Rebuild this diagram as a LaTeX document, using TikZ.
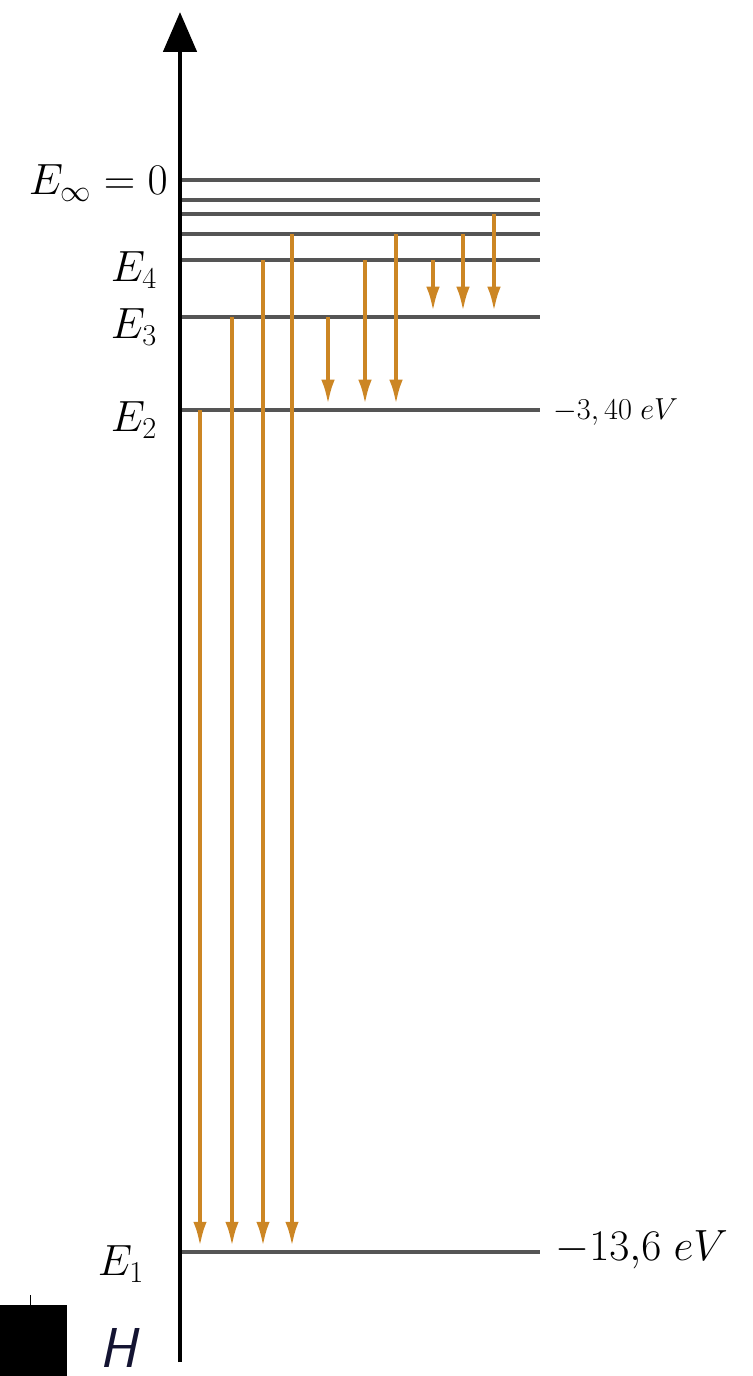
\documentclass[tikz,border=0pt]{standalone}
\usepackage{amsmath,amssymb}
\usetikzlibrary{arrows.meta}
\definecolor{photon}{RGB}{204,134,36}
\definecolor{levelgray}{RGB}{85,85,85}
\definecolor{hblue}{RGB}{20,20,50}

\begin{document}
\begin{tikzpicture}[x=0.02cm,y=-0.02cm,
  level/.style={levelgray, line width=2.1pt},
  trans/.style={photon, line width=2.3pt, shorten >=3pt, -{Latex[length=0.5cm,width=0.27cm]}},
  big/.style={font=\fontsize{25}{30}\selectfont, inner sep=0pt},
  small/.style={font=\fontsize{18}{22}\selectfont, inner sep=0pt}]
\useasboundingbox (0,0) rectangle (753,1376);
% levels
\coordinate (Einf) at (180,180);
\coordinate (E7) at (180,200);
\coordinate (E6) at (180,214);
\coordinate (E5) at (180,234);
\coordinate (E4) at (180,260);
\coordinate (E3) at (180,317);
\coordinate (E2) at (180,410);
\coordinate (E1) at (180,1252);
\foreach \l in {Einf,E7,E6,E5,E4,E3,E2,E1}
  \draw[level] (\l) -- (540,0 |- \l);
% transitions
\foreach \x/\a/\b in {200/E2/E1, 232/E3/E1, 263/E4/E1, 292/E5/E1,
                      328/E3/E2, 365/E4/E2, 396/E5/E2,
                      433/E4/E3, 463/E5/E3, 494/E6/E3}
  \draw[trans] (\x,0 |- \a) -- (\x,0 |- \b);
% axis
\coordinate (bot) at (180,1362);
\coordinate (top) at (180,12);
\draw[line width=2.8pt, -{Triangle[width=0.66cm,length=0.8cm]}] (bot) -- (top);
% labels
\node[big, anchor=east] (linf) at (168,183) {$E_\infty=0$};
\node[big] (l4) at (134,270) {$E_4$};
\node[big] (l3) at (134,327) {$E_3$};
\node[big] (l2) at (134,420) {$E_2$};
\node[big] (l1) at (121,1264) {$E_1$};
\node[small, anchor=west] (v2) at (553,412) {$-3,40\;eV$};
\node[big, anchor=west] (v1) at (555,1250) {$-13{,}6\;eV$};
% H
\fill (0,1305) rectangle (67,1376);
\draw (30,1295) -- (30,1305);
\node[font=\fontsize{32}{36}\selectfont\sffamily\itshape, text=hblue, inner sep=0pt] (hyd) at (118,1348) {H};
\end{tikzpicture}
\end{document}
